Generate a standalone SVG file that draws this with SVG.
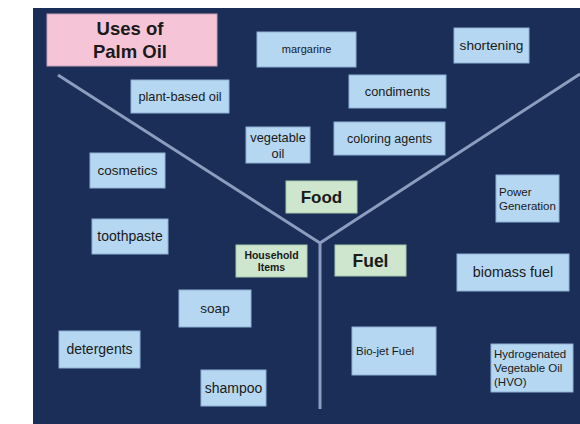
<svg xmlns="http://www.w3.org/2000/svg" width="580" height="424" viewBox="0 0 580 424">
<style>
.b{fill:#b5d7f1;stroke:#8fb0d4;stroke-width:1}
.g{fill:#cde6cd;stroke:#a9c9ad;stroke-width:1}
.p{fill:#f5c4d7;stroke:#c9a0b8;stroke-width:1}
text{font-family:"Liberation Sans",Arial,sans-serif;fill:#1a1a1a}
.t{text-anchor:middle}
.s{font-size:11.5px}
.h{font-weight:bold;text-anchor:middle}
.ln{stroke:#8d9dc0;stroke-width:3;fill:none}
</style>
<rect x="0" y="0" width="580" height="424" fill="#ffffff"/>
<rect x="33" y="8" width="547" height="416" fill="#1b2e58"/>
<g id="connectors">
<line class="ln" x1="58" y1="75" x2="320" y2="243"/>
<line class="ln" x1="580" y1="74" x2="320" y2="243"/>
<line class="ln" x1="320" y1="243" x2="320" y2="409"/>
</g>
<g id="title"><rect class="p" x="47" y="14" width="170" height="52"/><text class="h" x="130" y="35" font-size="18.5">Uses of</text><text class="h" x="130" y="58" font-size="18.5">Palm Oil</text></g>
<g id="margarine"><rect class="b" x="257" y="32" width="99" height="35"/><text class="t" x="306.500" y="53" font-size="11">margarine</text></g>
<g id="shortening"><rect class="b" x="454" y="28" width="75" height="35"/><text class="t" x="491.500" y="50" font-size="13.7">shortening</text></g>
<g id="plant-based-oil"><rect class="b" x="131" y="80" width="98" height="33"/><text class="t" x="180" y="101" font-size="12.8">plant-based oil</text></g>
<g id="condiments"><rect class="b" x="349" y="75" width="97" height="33"/><text class="t" x="397.500" y="96" font-size="12.8">condiments</text></g>
<g id="vegetable-oil"><rect class="b" x="246" y="127" width="64" height="36"/><text class="t" x="278" y="142" font-size="12.8">vegetable</text><text class="t" x="278" y="158" font-size="12.8">oil</text></g>
<g id="coloring-agents"><rect class="b" x="334" y="122" width="111" height="33"/><text class="t" x="389.500" y="143" font-size="12.5">coloring agents</text></g>
<g id="cosmetics"><rect class="b" x="90" y="153" width="75" height="35"/><text class="t" x="127.500" y="175" font-size="13.5">cosmetics</text></g>
<g id="food"><rect class="g" x="286" y="181" width="71" height="32"/><text class="h" x="321.500" y="203" font-size="17">Food</text></g>
<g id="power-generation"><rect class="b" x="496" y="175" width="63" height="47"/><text class="s" x="499" y="196">Power</text><text class="s" x="499" y="210">Generation</text></g>
<g id="toothpaste"><rect class="b" x="92" y="219" width="76" height="35"/><text class="t" x="130" y="241" font-size="14">toothpaste</text></g>
<g id="household-items"><rect class="g" x="236" y="245" width="71" height="32"/><text class="h" x="271.500" y="259" font-size="10.5">Household</text><text class="h" x="271.500" y="271" font-size="10.5">Items</text></g>
<g id="fuel"><rect class="g" x="335" y="245" width="71" height="31"/><text class="h" x="370.500" y="267" font-size="17.5">Fuel</text></g>
<g id="biomass-fuel"><rect class="b" x="457" y="254" width="112" height="37"/><text class="t" x="513" y="277" font-size="14.3">biomass fuel</text></g>
<g id="soap"><rect class="b" x="179" y="290" width="72" height="37"/><text class="t" x="215" y="313" font-size="13.5">soap</text></g>
<g id="detergents"><rect class="b" x="59" y="331" width="81" height="37"/><text class="t" x="99.500" y="354" font-size="14">detergents</text></g>
<g id="bio-jet-fuel"><rect class="b" x="352" y="327" width="84" height="48"/><text class="s" x="356" y="355">Bio-jet Fuel</text></g>
<g id="hvo"><rect class="b" x="491" y="344" width="82" height="48"/><text class="s" x="494" y="358">Hydrogenated</text><text class="s" x="494" y="372">Vegetable Oil</text><text class="s" x="494" y="386">(HVO)</text></g>
<g id="shampoo"><rect class="b" x="201" y="370" width="65" height="36"/><text class="t" x="233.500" y="393" font-size="14">shampoo</text></g>
</svg>
